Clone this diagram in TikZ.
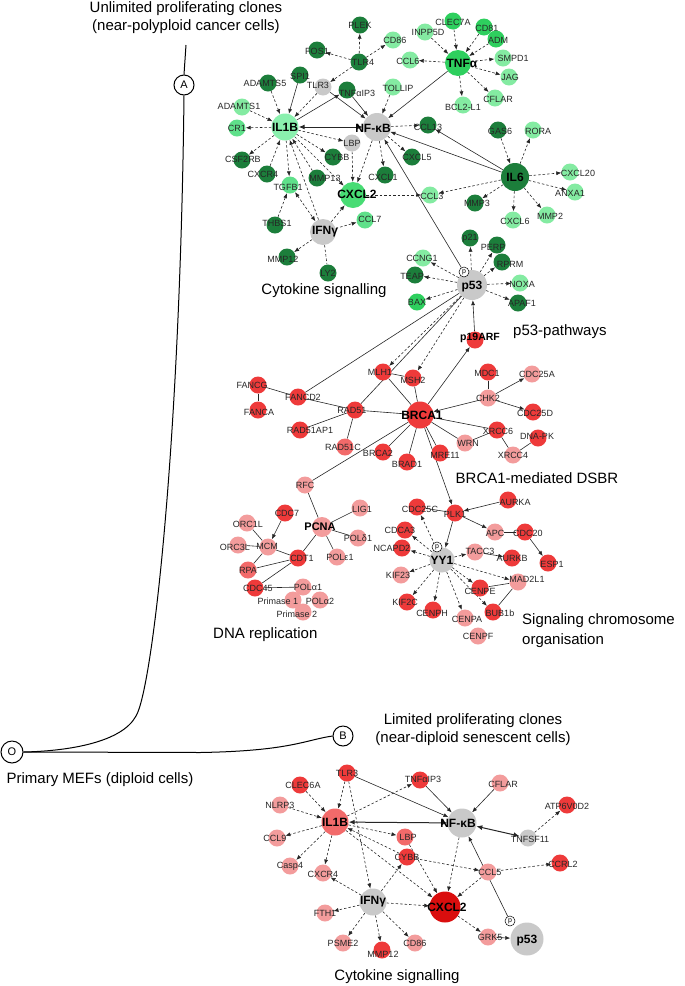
\documentclass[tikz,border=0pt]{standalone}
\usepackage{fontspec}
\setmainfont{Liberation Sans}
\usetikzlibrary{arrows.meta}
\pgfdeclarelayer{bg}
\pgfsetlayers{bg,main}
\definecolor{gL}{HTML}{84EBA2}
\definecolor{gL2}{HTML}{5FE08A}
\definecolor{gM}{HTML}{2ECF5E}
\definecolor{gD}{HTML}{1C7E3B}
\definecolor{gX}{HTML}{48DC74}
\definecolor{gIL}{HTML}{8AF0AE}
\definecolor{grayN}{HTML}{C9C9C9}
\definecolor{rD}{HTML}{EE3A3A}
\definecolor{rP}{HTML}{F39C9C}
\definecolor{rM}{HTML}{F26A6A}
\definecolor{rX}{HTML}{DA0E0E}
\tikzset{
 dot/.style={circle, inner sep=0pt, minimum size=17pt},
 lbl/.style={font=\fontsize{9}{10}\selectfont, inner sep=0pt, text=black!85},
 blbl/.style={font=\fontsize{12}{12}\selectfont\bfseries, inner sep=0pt},
 ttl/.style={font=\fontsize{15}{18}\selectfont, inner sep=0pt},
 pc/.style={circle, draw=black, fill=white, inner sep=0pt, minimum size=10pt, line width=0.5pt, font=\fontsize{7}{7}\selectfont},
 tree/.style={line width=1pt, black},
 edge/.style={line width=0.6pt, black!85},
 da/.style={edge, dash pattern=on 2.5pt off 2pt, -{Latex[length=5pt,width=4pt]}},
 dd/.style={edge, dash pattern=on 2.5pt off 2pt, {Latex[length=5pt,width=4pt]}-{Latex[length=5pt,width=4pt]}},
 dl/.style={edge, dash pattern=on 2.5pt off 2pt},
 sa/.style={edge, -{Latex[length=5pt,width=4pt]}},
 sl/.style={edge},
 sd/.style={edge, line width=1pt, {Latex[length=6pt,width=5pt]}-{Latex[length=6pt,width=5pt]}},
}
\newcommand{\nd}[7]{\node[dot,fill=#4] (#1) at (#2,#3) {};\node[lbl] at (#6,#7) {#5};}
\newcommand{\bnd}[8]{\node[dot,fill=#4,minimum size=#5pt] (#1) at (#2,#3) {};\node[blbl] at (#7,#8) {#6};}
\begin{document}
\begin{tikzpicture}[x=1pt,y=-1pt]
\useasboundingbox (0,0) rectangle (685,986);
% ---------- tree ----------
\node[ttl, align=center] (ttop) at (186,18) {Unlimited proliferating clones\\(near-polyploid cancer cells)};
\node[circle, draw, line width=1pt, minimum size=20pt, inner sep=0pt, font=\fontsize{11}{11}\selectfont] (A) at (184,85) {A};
\node[circle, draw, line width=1pt, minimum size=22pt, inner sep=0pt, font=\fontsize{11}{11}\selectfont] (O) at (12,752) {O};
\node[circle, draw, line width=1pt, minimum size=20pt, inner sep=0pt, font=\fontsize{11}{11}\selectfont] (B) at (343,736) {B};
\coordinate (atop) at (186,45);
\draw[tree] (atop) -- (A.north);
\draw[tree] (A.south) .. controls (180,450) and (152,690) .. (136,716) .. controls (122,742) and (70,751) .. (O.east);
\draw[tree] (O.east) -- (200,752.5) .. controls (290,751) and (305,740) .. (B.west);
\node[ttl] (tmef) at (100,780) {Primary MEFs (diploid cells)};
\node[ttl, align=center] (tlim) at (473,730) {Limited proliferating clones\\(near-diploid senescent cells)};
% ---------- top cytokine ----------
\nd{tPLEK}{360}{25}{gD}{PLEK}{360}{25}
\nd{tFOS1}{317}{50}{gD}{FOS1}{317}{51}
\nd{tTLR4}{359}{62}{gD}{TLR4}{363}{62}
\nd{tCD86}{393}{40}{gL}{CD86}{395}{40}
\nd{tSPI1}{300}{75}{gD}{SPI1}{300}{76}
\nd{tADAMTS5}{268}{83}{gD}{ADAMTS5}{265}{83}
\nd{tTLR3}{323}{87}{grayN}{TLR3}{318}{85}
\nd{tTNFAIP3}{347}{90}{gD}{TNFαIP3}{357}{93}
\nd{tTOLLIP}{393}{87}{gL}{TOLLIP}{398}{88}
\nd{tADAMTS1}{242}{107}{gL}{ADAMTS1}{239}{106}
\nd{tCR1}{237}{128}{gL2}{CR1}{237}{128}
\bnd{tIL1B}{285}{127}{gIL}{27}{IL1B}{285}{127}
\bnd{tNFKB}{377}{127}{grayN}{28}{NF-κB}{373}{128}
\nd{tLBP}{352}{143}{grayN}{LBP}{352}{143}
\nd{tCLEC7A}{453}{21}{gM}{CLEC7A}{453}{22}
\nd{tINPP5D}{425}{32}{gL}{INPP5D}{428}{32}
\nd{tCD81}{484}{27}{gM}{CD81}{487}{28}
\nd{tADM}{496}{39}{gM}{ADM}{498}{40}
\bnd{tTNFA}{458}{63}{gM}{26}{TNFα}{462}{63}
\nd{tCCL6}{410}{60}{gL}{CCL6}{408}{61}
\nd{tSMPD1}{503}{58}{gL}{SMPD1}{513}{58}
\nd{tJAG}{509}{77}{gL}{JAG}{510}{77}
\nd{tCFLAR}{495}{98}{gL}{CFLAR}{498}{99}
\nd{tBCL2L1}{463}{105}{gL}{BCL2-L1}{463}{107}
\nd{tCCL13}{428}{125}{gD}{CCL13}{428}{127}
\nd{tGAS6}{498}{130}{gD}{GAS6}{500}{131}
\nd{tRORA}{533}{130}{gL}{RORA}{538}{131}
\nd{tCSF2RB}{242}{160}{gD}{CSF2RB}{243}{159}
\nd{tCXCR4}{267}{174}{gD}{CXCR4}{263}{174}
\nd{tTGFB1}{290}{185}{gL2}{TGFB1}{288}{187}
\nd{tMMP13}{317}{178}{gD}{MMP13}{325}{178}
\nd{tCYBB}{333}{157}{gD}{CYBB}{337}{157}
\bnd{tCXCL2}{353}{195}{gX}{26}{CXCL2}{357}{194}
\nd{tCXCL1}{385}{175}{gD}{CXCL1}{383}{177}
\nd{tTHBS1}{275}{225}{gD}{THBS1}{277}{223}
\bnd{tIFNG}{323}{232}{grayN}{26}{IFNγ}{325}{232}
\nd{tCCL7}{365}{220}{gL2}{CCL7}{370}{219}
\nd{tMMP12}{287}{257}{gD}{MMP12}{283}{259}
\nd{tLY2}{328}{273}{gD}{LY2}{328}{273}
\node[ttl] (tcyt) at (324,291) {Cytokine signalling};
\nd{tCXCL5}{412}{157}{gD}{CXCL5}{417}{157}
\bnd{tIL6}{515}{177}{gD}{28}{IL6}{515}{177}
\nd{tCXCL20}{570}{172}{gL}{CXCL20}{578}{173}
\nd{tANXA1}{575}{192}{gL}{ANXA1}{570}{193}
\nd{tCCL3}{430}{195}{gL}{CCL3}{432}{196}
\nd{tMMP3}{475}{203}{gD}{MMP3}{477}{203}
\nd{tMMP2}{547}{215}{gL}{MMP2}{550}{216}
\nd{tCXCL6}{513}{220}{gL}{CXCL6}{515}{221}
% ---------- p53 ----------
\nd{tP21}{470}{238}{gD}{p21}{470}{238}
\nd{tPERP}{497}{245}{gD}{PERP}{493}{247}
\nd{tRPRM}{502}{262}{gD}{RPRM}{510}{264}
\nd{tCCNG1}{423}{258}{gL}{CCNG1}{422}{258}
\nd{tTEAP}{415}{275}{gD}{TEAP}{412}{276}
\bnd{tP53}{472}{285}{grayN}{30}{p53}{472}{287}
\node[pc] (tpp) at (464,272) {p};
\nd{tNOXA}{520}{283}{gL}{NOXA}{522}{284}
\nd{tBAX}{417}{302}{gM}{BAX}{417}{302}
\nd{tAPAF1}{518}{303}{gD}{APAF1}{522}{303}
\node[dot,fill=rD] (rP19) at (475,340) {};
\node[inner sep=0pt, font=\fontsize{10.5}{11}\selectfont\bfseries] at (480,338) {p19ARF};
\node[ttl, anchor=west] (tp53t) at (513,332) {p53-pathways};
% ---------- BRCA1 ----------
\nd{rMLH1}{383}{372}{rD}{MLH1}{380}{372}
\nd{rMSH2}{413}{378}{rD}{MSH2}{413}{380}
\nd{rMDC1}{488}{372}{rD}{MDC1}{487}{373}
\nd{rCDC25A}{532}{374}{rP}{CDC25A}{537}{374}
\nd{rCHK2}{488}{398}{rP}{CHK2}{488}{398}
\bnd{rBRCA1}{420}{415}{rD}{27}{BRCA1}{422}{415}
\nd{rCDC25D}{533}{412}{rD}{CDC25D}{535}{413}
\nd{rXRCC6}{497}{430}{rD}{XRCC6}{498}{431}
\nd{rDNAPK}{538}{438}{rD}{DNA-PK}{537}{436}
\nd{rWRN}{465}{443}{rP}{WRN}{468}{443}
\nd{rXRCC4}{513}{455}{rP}{XRCC4}{513}{455}
\nd{rMRE11}{440}{453}{rD}{MRE11}{445}{455}
\nd{rBRAD1}{407}{462}{rD}{BRAD1}{407}{464}
\nd{rBRCA2}{383}{452}{rD}{BRCA2}{378}{453}
\nd{rFANCG}{258}{385}{rD}{FANCG}{252}{385}
\nd{rFANCA}{258}{410}{rD}{FANCA}{259}{412}
\nd{rFANCD2}{298}{397}{rD}{FANCD2}{303}{397}
\nd{rRAD51}{355}{410}{rD}{RAD51}{352}{410}
\nd{rRAD51AP1}{300}{430}{rD}{RAD51AP1}{310}{430}
\nd{rRAD51C}{345}{447}{rM}{RAD51C}{343}{447}
\node[ttl] (tdsbr) at (537,478) {BRCA1-mediated DSBR};
% ---------- DNA replication ----------
\nd{rRFC}{305}{485}{rP}{RFC}{305}{485}
\nd{rCDC7}{285}{513}{rD}{CDC7}{287}{513}
\nd{rLIG1}{360}{508}{rP}{LIG1}{362}{509}
\nd{rORC1L}{247}{523}{rP}{ORC1L}{248}{524}
\node[dot,fill=rP,minimum size=20pt] (rPCNA) at (322,527) {};
\node[inner sep=0pt, font=\fontsize{11}{11}\selectfont\bfseries] at (320,527) {PCNA};
\nd{rPOLD1}{358}{538}{rP}{POLδ1}{358}{538}
\nd{rORC3L}{238}{545}{rP}{ORC3L}{235}{547}
\nd{rMCM}{268}{547}{rP}{MCM}{267}{546}
\nd{rCDT1}{298}{558}{rD}{CDT1}{302}{558}
\nd{rPOLE1}{337}{557}{rP}{POLε1}{340}{557}
\nd{rRPA}{248}{570}{rM}{RPA}{248}{570}
\nd{rCDC45}{255}{588}{rD}{CDC45}{258}{588}
\nd{rPOLA1}{303}{587}{rP}{POLα1}{308}{587}
\nd{rPRIM1}{293}{600}{rP}{}{293}{600}
\nd{rPOLA2}{320}{600}{rP}{POLα2}{320}{601}
\nd{rPRIM2}{303}{612}{rP}{Primase 2}{297}{614}
\node[lbl] at (278,601) {Primase 1};
\node[ttl, anchor=west] (tdna) at (213,635) {DNA replication};
% ---------- chromosome ----------
\nd{rCDC25C}{417}{507}{rD}{CDC25C}{420}{509}
\nd{rPLK1}{455}{513}{rD}{PLK1}{455}{514}
\nd{rAURKA}{508}{500}{rD}{AURKA}{515}{502}
\nd{rAPC}{495}{532}{rP}{APC}{495}{533}
\nd{rCDC20}{525}{532}{rD}{CDC20}{528}{533}
\nd{rCDCA3}{405}{530}{rD}{CDCA3}{400}{530}
\nd{rNCAPD2}{402}{548}{rD}{NCAPD2}{392}{548}
\bnd{rYY1}{442}{560}{grayN}{25}{YY1}{442}{560}
\node[pc] (rpp) at (437,547) {p};
\nd{rTACC3}{475}{552}{rP}{TACC3}{480}{551}
\nd{rAURKB}{512}{558}{rD}{AURKB}{512}{558}
\nd{rESP1}{548}{563}{rD}{ESP1}{552}{564}
\nd{rMAD2L1}{518}{582}{rP}{MAD2L1}{527}{579}
\nd{rKIF23}{401}{575}{rP}{KIF23}{398}{575}
\nd{rCENPE}{480}{588}{rD}{CENPE}{480}{591}
\nd{rKIF2C}{407}{602}{rD}{KIF2C}{405}{602}
\nd{rCENPH}{433}{610}{rD}{CENPH}{432}{613}
\nd{rBUB1b}{493}{612}{rD}{BUB1b}{500}{613}
\nd{rCENPA}{465}{618}{rP}{CENPA}{467}{619}
\nd{rCENPF}{478}{636}{rP}{CENPF}{478}{636}
\node[ttl, anchor=north west, align=left, font=\fontsize{15}{20}\selectfont] (tchr) at (522,613) {Signaling chromosome\\organisation};
% ---------- bottom cytokine ----------
\nd{bTLR3}{347}{773}{rD}{TLR3}{347}{773}
\nd{bCLEC6A}{300}{785}{rD}{CLEC6A}{303}{785}
\nd{bTNFAIP3}{420}{780}{rD}{TNFαIP3}{423}{779}
\nd{bNLRP3}{280}{805}{rP}{NLRP3}{280}{805}
\bnd{bIL1B}{335}{822}{rM}{27}{IL1B}{335}{822}
\bnd{bNFKB}{462}{823}{grayN}{29}{NF-κB}{458}{823}
\nd{bCFLAR}{500}{783}{rP}{CFLAR}{503}{784}
\nd{bATP}{567}{805}{rD}{ATP6V0D2}{567}{806}
\nd{bTNFSF11}{528}{838}{grayN}{TNFSF11}{530}{839}
\nd{bCCL9}{277}{838}{rP}{CCL9}{275}{838}
\nd{bLBP}{405}{837}{rM}{LBP}{408}{837}
\nd{bCYBB}{407}{857}{rD}{CYBB}{407}{857}
\nd{bCasp4}{290}{866}{rP}{Casp4}{290}{866}
\nd{bCXCR4}{323}{873}{rP}{CXCR4}{323}{874}
\nd{bCCL5}{488}{872}{rP}{CCL5}{490}{872}
\nd{bCCRL2}{560}{863}{rD}{CCRL2}{563}{864}
\bnd{bIFNG}{373}{902}{grayN}{27}{IFNγ}{373}{902}
\nd{bFTH1}{325}{913}{rP}{FTH1}{325}{913}
\bnd{bCXCL2}{445}{907}{rX}{31}{CXCL2}{447}{907}
\nd{bGRK5}{488}{937}{rP}{GRK5}{490}{937}
\bnd{bP53}{527}{939}{grayN}{33}{p53}{527}{941}
\node[pc] (bpp) at (510,921) {p};
\nd{bPSME2}{343}{943}{rP}{PSME2}{343}{943}
\nd{bMMP12}{382}{950}{rD}{MMP12}{383}{954}
\nd{bCD86}{415}{943}{rP}{CD86}{415}{943}
\node[ttl] (tcyt2) at (397,977) {Cytokine signalling};
% ---------- edges ----------
\begin{pgfonlayer}{bg}
\foreach \a/\b in {tADAMTS5/tIL1B, tTLR3/tIL1B, tADAMTS1/tIL1B, tIL1B/tCR1, tIL1B/tCSF2RB, tCXCR4/tIL1B, tIL1B/tTGFB1, tMMP13/tIL1B, tIL1B/tCYBB, tIL1B/tCXCL2, tIL1B/tLBP, tIFNG/tIL1B,
 tTLR4/tFOS1, tTLR4/tPLEK, tTLR4/tCD86, tTLR4/tTLR3, tTOLLIP/tNFKB, tNFKB/tCXCL2, tNFKB/tCXCL1, tNFKB/tCXCL5, tNFKB/tCCL13, tLBP/tCXCL2, tCXCL2/tCCL3,
 tINPP5D/tTNFA, tCLEC7A/tTNFA, tCD81/tTNFA, tADM/tTNFA, tTNFA/tCCL6, tTNFA/tSMPD1, tTNFA/tJAG, tTNFA/tBCL2L1, tTNFA/tCFLAR,
 tGAS6/tIL6, tIL6/tRORA, tIL6/tCXCL20, tIL6/tANXA1, tIL6/tMMP2, tIL6/tCXCL6, tIL6/tMMP3, tIL6/tCCL3,
 tTHBS1/tTGFB1, tIFNG/tCXCL2, tIFNG/tCCL7, tIFNG/tMMP12,
 tP53/tCCNG1, tP53/tTEAP, tP53/tBAX, tP53/tP21, tP53/tPERP, tP53/tRPRM, tP53/tNOXA, tP53/tAPAF1, tP53/rMLH1, tP53/rMSH2,
 rYY1/rCDC25C, rYY1/rCDCA3, rYY1/rNCAPD2, rYY1/rKIF23, rYY1/rKIF2C, rYY1/rCENPH, rYY1/rCENPA, rYY1/rBUB1b, rYY1/rCENPE, rYY1/rMAD2L1, rYY1/rTACC3,
 bTLR3/bIL1B, bTLR3/bIFNG, bCLEC6A/bIL1B, bNLRP3/bIL1B, bIL1B/bCCL9, bIL1B/bCasp4, bIL1B/bCXCR4, bIL1B/bTNFAIP3, bIL1B/bLBP, bCYBB/bIL1B, bIL1B/bCXCL2,
 bIFNG/bCYBB, bIFNG/bCXCR4, bIFNG/bFTH1, bIFNG/bPSME2, bIFNG/bMMP12, bIFNG/bCD86, bIFNG/bCXCL2, bLBP/bCXCL2, bNFKB/bCXCL2, bCCL5/bCXCL2, bCYBB/bCCL5, bCCL5/bCCRL2, bCXCL2/bGRK5, bTNFSF11/bATP}
  \draw[da] (\a) -- (\b);
\draw[dd] (tTGFB1) -- (tIFNG);
\draw[dl] (tIFNG) -- (tLY2);
\foreach \a/\b in {tSPI1/tIL1B, tIL1B/tTNFAIP3, tTNFAIP3/tNFKB, tTLR3/tNFKB, tTNFA/tNFKB, tIL6/tNFKB, tIL6/tCCL13, tpp/tNFKB,
 rP19/tP53, rBRCA1/rP19, rCHK2/rCDC25A, rCHK2/rCDC25D, rCHK2/rBRCA1, rBRCA1/rPLK1, rCDC7/rMCM,
 rAURKA/rPLK1, rPLK1/rYY1, rPLK1/rAPC, rCDC20/rESP1, rTACC3/rAURKB,
 bTLR3/bNFKB, bTNFAIP3/bNFKB, bCFLAR/bNFKB, bGRK5/bP53, bpp/bNFKB}
  \draw[sa] (\a) -- (\b);
\foreach \a/\b in {tP53/rRAD51, tP53/rFANCD2, rFANCG/rFANCA, rFANCG/rFANCD2, rFANCD2/rRAD51, rRAD51/rBRCA1, rRAD51AP1/rRAD51, rRAD51C/rRAD51, rBRCA2/rBRCA1, rBRAD1/rBRCA1, rMRE11/rBRCA1, rWRN/rBRCA1, rXRCC6/rBRCA1, rXRCC6/rWRN, rXRCC6/rXRCC4, rXRCC4/rDNAPK, rMDC1/rCHK2, rMLH1/rMSH2, rMSH2/rBRCA1, rMLH1/rBRCA1,
 rRFC/rBRCA1, rRFC/rPCNA, rPCNA/rLIG1, rPCNA/rPOLD1, rPCNA/rPOLE1, rPCNA/rCDT1, rORC1L/rMCM, rORC3L/rMCM, rMCM/rCDT1, rRPA/rCDT1, rCDC45/rCDT1, rRPA/rMCM, rCDC45/rPOLA1,
 rCDC25C/rPLK1, rAPC/rCDC20, rCENPE/rMAD2L1, rMAD2L1/rBUB1b}
  \draw[sl] (\a) -- (\b);
\draw[sd] (tIL1B) -- (tNFKB);
\draw[sd] (bIL1B) -- (bNFKB);
\draw[sd] (bNFKB) -- (bTNFSF11);
\end{pgfonlayer}
\end{tikzpicture}
\end{document}
